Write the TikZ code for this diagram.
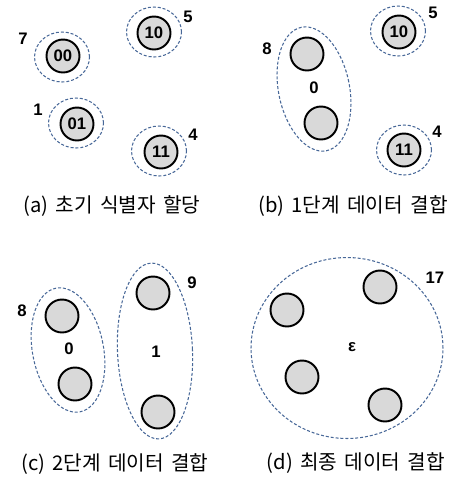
\documentclass[tikz,border=0pt]{standalone}
\usepackage{fontspec}
\setmainfont{Liberation Sans}
\newfontfamily\kor[WordSpace=1.6]{Noto Sans CJK KR}
\usetikzlibrary{shapes.geometric}
\definecolor{grpblue}{RGB}{72,104,152}
\definecolor{cellgray}{RGB}{217,217,217}

\begin{document}
\begin{tikzpicture}[
    x=0.02cm, y=-0.02cm,
    cell/.style={
        circle, draw=black, line width=1.1pt, fill=cellgray,
        minimum size=0.66cm, inner sep=0pt,
        font=\fontsize{9.5}{11}\selectfont\bfseries
    },
    grp/.style={
        ellipse, draw=grpblue, line width=0.6pt,
        dash pattern=on 1.7pt off 1.1pt, inner sep=0pt
    },
    single/.style={grp, minimum width=1.1cm, minimum height=1.0cm},
    pair/.style={grp, minimum width=1.42cm, minimum height=2.52cm},
    num/.style={font=\fontsize{9.5}{11}\selectfont\bfseries, inner sep=0pt},
    caption/.style={font=\kor\fontsize{11.5}{13}\selectfont, inner sep=0pt}
]
\useasboundingbox (0,0) rectangle (458,481);
% (a) initial identifiers
\node[single] (gA00) at (62,57) {};
\node[single] (gA10) at (154,32) {};
\node[single] (gA01) at (76,123) {};
\node[single] (gA11) at (159,151) {};
\node[cell] (a00) at (63,56) {00};
\node[cell] (a10) at (154,33) {10};
\node[cell] (a01) at (77,124) {01};
\node[cell] (a11) at (161,152) {11};
\node[num] (wA00) at (23,39) {7};
\node[num] (wA10) at (188,17) {5};
\node[num] (wA01) at (38,110) {1};
\node[num] (wA11) at (193,135) {4};
\node[caption] (capA) at (112,206) {(a) 초기 식별자 할당};
% (b) first merge
\node[pair, rotate=11.5] (gB0) at (314,89) {};
\node[single] (gB10) at (398,31) {};
\node[single] (gB11) at (404,150) {};
\node[cell] (b1) at (307,54) {};
\node[cell] (b2) at (321,123) {};
\node[cell] (b10) at (399,32) {10};
\node[cell] (b11) at (404,150) {11};
\node[num] (wB0) at (267,49) {8};
\node[num] (lB0) at (314,88) {0};
\node[num] (wB10) at (433,13) {5};
\node[num] (wB11) at (437,132) {4};
\node[caption] (capB) at (353,206) {(b) 1단계 데이터 결합};
% (c) second merge
\node[pair, rotate=11] (gC0) at (68,350) {};
\node[grp, minimum width=1.5cm, minimum height=3.52cm, rotate=2.5] (gC1) at (155,351) {};
\node[cell] (c1) at (62,316) {};
\node[cell] (c2) at (75,384) {};
\node[cell] (c3) at (153,293) {};
\node[cell] (c4) at (158,412) {};
\node[num] (wC0) at (22,311) {8};
\node[num] (lC0) at (69,349) {0};
\node[num] (wC1) at (192,283) {9};
\node[num] (lC1) at (156,352) {1};
\node[caption] (capC) at (115,464) {(c) 2단계 데이터 결합};
% (d) final merge
\node[grp, minimum width=3.84cm, minimum height=3.62cm] (gD) at (347,348) {};
\node[cell] (d1) at (287,310) {};
\node[cell] (d2) at (380,287) {};
\node[cell] (d3) at (302,377) {};
\node[cell] (d4) at (385,405) {};
\node[num] (lD) at (352,347) {ε};
\node[num] (wD) at (435,278) {17};
\node[caption] (capD) at (356,463) {(d) 최종 데이터 결합};
\end{tikzpicture}
\end{document}
